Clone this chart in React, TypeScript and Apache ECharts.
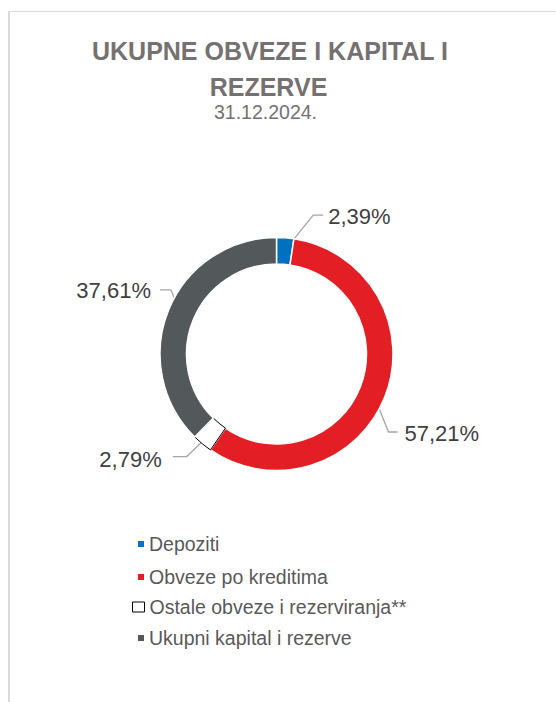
import React, { useEffect, useRef } from "react";
import * as echarts from "echarts";

const titleLines = ["UKUPNE OBVEZE I KAPITAL I", "REZERVE"];
const dateLabel = "31.12.2024.";
const categories = [
  "Depoziti",
  "Obveze po kreditima",
  "Ostale obveze i rezerviranja**",
  "Ukupni kapital i rezerve",
];
const shares = [2.39, 57.21, 2.79, 37.61];
const colors = ["#0070C0", "#E31E24", "#FFFFFF", "#53585A"];

const FONT = "'Liberation Sans', Arial, sans-serif";
const CX = 276.5;
const CY = 354;
const R0 = 90;
const R1 = 116.5;
const RM = (R0 + R1) / 2;

// leader-line geometry (elbow offsets from start, horizontal run, text gap, text y shift)
const leaders = [
  { dx: 29, dy: -36, run: 10, gap: 5, ty: 1 },
  { dx: 16, dy: 40, run: 9, gap: 7, ty: 2 },
  { dx: -24, dy: 23, run: -14, gap: 11, ty: 3 },
  { dx: -10, dy: -25, run: -11, gap: 9, ty: 1 },
];

const legendCenters = [544, 577, 607, 638];
const titlePos = [
  [270, 51],
  [268.5, 86.5],
];
const datePos = [265.5, 112];

export default function App() {
  const ref = useRef<HTMLDivElement>(null);
  useEffect(() => {
    if (!ref.current) return;
    const chart = echarts.init(ref.current, null, { renderer: "svg" });
    const data = categories.map((name, i) => {
      const isOther = i === 2;
      return {
        name,
        value: shares[i],
        itemStyle: isOther
          ? { color: "#FFFFFF", borderColor: "#000000", borderWidth: 1 }
          : { color: colors[i], borderColor: "#FFFFFF", borderWidth: 1.5 },
      };
    });
    const legends = categories.map((name, i) => {
      const isOther = i === 2;
      const w = isOther ? 12 : 6;
      const h = isOther ? 10 : 6;
      return {
        data: [{ name, icon: "rect" }],
        orient: "vertical",
        padding: 0,
        left: 149 - 5 - w,
        top: legendCenters[i] - 10,
        itemWidth: w,
        itemHeight: h,
        itemStyle: isOther
          ? { color: "#FFFFFF", borderColor: "#000000", borderWidth: 1 }
          : { color: colors[i], borderWidth: 0 },
        textStyle: {
          fontSize: 19.5,
          lineHeight: 20,
          color: "#595959",
          fontFamily: FONT,
        },
        selectedMode: false,
      };
    });
    const texts: any[] = titleLines.map((t, i) => ({
      type: "text",
      x: titlePos[i][0],
      y: titlePos[i][1],
      silent: true,
      style: {
        text: t,
        fill: "#767171",
        fontSize: 25,
        fontWeight: "bold",
        fontFamily: FONT,
        align: "center",
        verticalAlign: "middle",
      },
    }));
    texts.push({
      type: "text",
      x: datePos[0],
      y: datePos[1],
      silent: true,
      style: {
        text: dateLabel,
        fill: "#767171",
        fontSize: 19.5,
        fontFamily: FONT,
        align: "center",
        verticalAlign: "middle",
      },
    });
    chart.setOption({
      animation: false,
      backgroundColor: "#FFFFFF",
      legend: legends,
      graphic: [
        {
          type: "line",
          shape: { x1: 8, y1: 11.5, x2: 560, y2: 11.5 },
          style: { stroke: "#D9D9D9", lineWidth: 1 },
          silent: true,
        },
        {
          type: "line",
          shape: { x1: 9, y1: 11, x2: 9, y2: 710 },
          style: { stroke: "#D9D9D9", lineWidth: 2 },
          silent: true,
        },
        ...texts,
      ],
      series: [
        {
          type: "pie",
          center: [CX, CY],
          radius: [R0, R1],
          startAngle: 90,
          clockwise: true,
          avoidLabelOverlap: false,
          data,
          label: {
            show: true,
            position: "outside",
            formatter: (p: any) =>
              Number(p.value).toFixed(2).replace(".", ",") + "%",
            fontSize: 22,
            color: "#404040",
            fontFamily: FONT,
          },
          labelLine: {
            show: true,
            length: 10,
            length2: 10,
            lineStyle: { color: "#A6A6A6", width: 1.3 },
          },
          labelLayout: (p: any) => {
            const pts = p.labelLinePoints;
            if (!pts) return {};
            const ox = pts[0][0];
            const oy = pts[0][1];
            const k = RM / Math.hypot(ox - CX, oy - CY);
            const sx = CX + (ox - CX) * k;
            const sy = CY + (oy - CY) * k;
            const L = leaders[p.dataIndex];
            const ex = sx + L.dx;
            const ey = sy + L.dy;
            const fx = ex + L.run;
            const right = L.run > 0;
            return {
              x: fx + (right ? L.gap : -L.gap),
              y: ey + L.ty,
              align: right ? "left" : "right",
              verticalAlign: "middle",
              labelLinePoints: [
                [sx, sy],
                [ex, ey],
                [fx, ey],
              ],
            };
          },
          emphasis: { disabled: true },
        },
      ],
    });
    return () => chart.dispose();
  }, []);
  return (
    <div
      ref={ref}
      style={{ position: "fixed", left: 0, top: 0, width: 556, height: 702 }}
    />
  );
}
